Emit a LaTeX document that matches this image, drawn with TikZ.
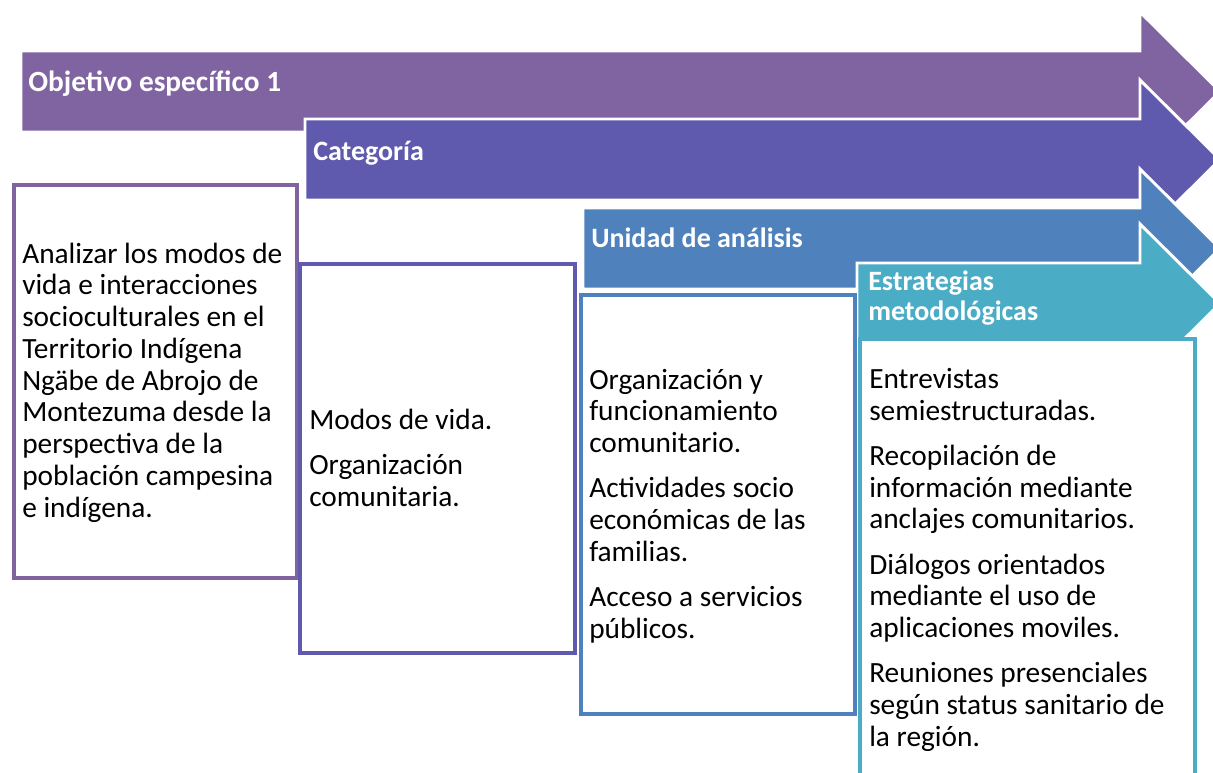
\documentclass[tikz,border=0pt]{standalone}
\usepackage{fontspec}
\setmainfont{Carlito}
\usepackage{xcolor}
\definecolor{Morado}{HTML}{8064A2}
\definecolor{Violeta}{HTML}{5F5AAD}
\definecolor{Azul}{HTML}{4F81BD}
\definecolor{Turquesa}{HTML}{4BACC6}
\usepackage{tikz}
\usetikzlibrary{calc}

\newcommand{\Flecha}[3]{%
  \edef\fx{#1}% left end
  \edef\fy{#2}% top of the body
  \edef\fcolor{#3}%
  \filldraw[draw=white, line width=2.2pt, fill=\fcolor] (\fx,\fy) -- (1140,\fy) -- (1140,\fy-39) -- (1220,\fy+40.5) -- (1140,\fy+120) -- (1140,\fy+81) -- (\fx,\fy+81) -- cycle;
}

% base of a node with several lines = baseline of its last line
\tikzset{
  titulo/.style={anchor=base west, inner sep=0pt, text=white, align=left, font=\fontsize{21}{22.5}\selectfont\bfseries},
  texto/.style={anchor=base west, inner sep=0pt, align=left, font=\fontsize{22}{23.8}\selectfont},
  caja/.style={draw=#1, line width=3.5pt, fill=white},
}

\begin{document}
\begin{tikzpicture}[x=0.75pt, y=-0.75pt]

	\clip (0,0) rectangle (1213,773);

	\Flecha{21}{51}{Morado}
	\Flecha{305}{119}{Violeta}
	\Flecha{583}{208}{Azul}
	\Flecha{857}{263}{Turquesa}

	\draw[caja=Morado] (14,185) rectangle (297,578);
	\draw[caja=Violeta] (300,264) rectangle (575,653);
	\draw[caja=Azul] (581,295) rectangle (855,714);
	\draw[caja=Turquesa] (860,339) rectangle (1195,800);

	\node[titulo, font=\fontsize{22}{23}\selectfont\bfseries] (obj) at (28,92) {Objetivo específico 1};
	\node[titulo] (cat) at (313,161) {Categoría};
	\node[titulo] (uni) at (591,248) {Unidad de análisis};
	\node[titulo] (est) at (868,321) {Estrategias\\metodológicas};

	\node[texto] (t1) at (22,517) {Analizar los modos de\\vida e interacciones\\socioculturales en el\\Territorio Indígena\\Ngäbe de Abrojo de\\Montezuma desde la\\perspectiva de la\\población campesina\\e indígena.};
	\node[texto] (t2) at (309,506) {Modos de vida.\\[10pt]Organización\\comunitaria.};
	\node[texto] (t3) at (589,638) {Organización y\\funcionamiento\\comunitario.\\[10pt]Actividades socio\\económicas de las\\familias.\\[10pt]Acceso a servicios\\públicos.};
	\node[texto] (t4) at (869,746) {Entrevistas\\semiestructuradas.\\[10pt]Recopilación de\\información mediante\\anclajes comunitarios.\\[10pt]Diálogos orientados\\mediante el uso de\\aplicaciones moviles.\\[10pt]Reuniones presenciales\\según status sanitario de\\la región.};

\end{tikzpicture}
\end{document}
